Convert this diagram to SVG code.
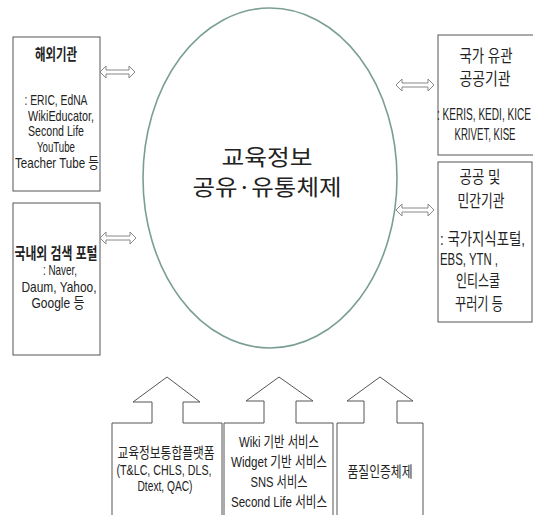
<svg xmlns="http://www.w3.org/2000/svg" width="533" height="515" viewBox="0 0 533 515">
<style>
.box{fill:#fff;stroke:#555;stroke-width:1}
.dbl{fill:#fff;stroke:#888;stroke-width:1}
.up{fill:#fff;stroke:#555;stroke-width:1}
text{font-family:"Liberation Sans","Noto Sans CJK KR",sans-serif;fill:#222;text-anchor:middle}
.t{font-size:15px}
.r{font-size:16.5px}
.b{font-size:16px;font-weight:bold}
.c{font-family:"Noto Sans CJK KR",sans-serif;font-size:22px}
</style>
<rect width="533" height="515" fill="#fff"/>
<g id="center">
<ellipse cx="270" cy="178" rx="127" ry="170" fill="#fff" stroke="#7a9e96" stroke-width="1.6"/>
<text class="c" x="267" y="165" textLength="91" lengthAdjust="spacingAndGlyphs">교육정보</text>
<text class="c" x="267" y="195" textLength="149" lengthAdjust="spacingAndGlyphs">공유·유통체제</text>
</g>
<g id="overseas">
<rect class="box" x="13" y="37" width="87" height="154"/>
<text class="b" x="56" y="60" textLength="42" lengthAdjust="spacingAndGlyphs">해외기관</text>
<text class="t" x="56" y="105" textLength="63" lengthAdjust="spacingAndGlyphs">: ERIC, EdNA</text>
<text class="t" x="61" y="120.5" textLength="66" lengthAdjust="spacingAndGlyphs">WikiEducator,</text>
<text class="t" x="56" y="136" textLength="56" lengthAdjust="spacingAndGlyphs">Second Life</text>
<text class="t" x="56" y="152" textLength="38" lengthAdjust="spacingAndGlyphs">YouTube</text>
<text class="t" x="57" y="168" textLength="84" lengthAdjust="spacingAndGlyphs">Teacher Tube 등</text>
</g>
<g id="portal">
<rect class="box" x="13" y="203" width="87" height="152"/>
<text class="b" x="56" y="259" textLength="83" lengthAdjust="spacingAndGlyphs">국내외 검색 포털</text>
<text class="t" x="60" y="275" textLength="34" lengthAdjust="spacingAndGlyphs">: Naver,</text>
<text class="t" x="59" y="292" textLength="75" lengthAdjust="spacingAndGlyphs">Daum, Yahoo,</text>
<text class="t" x="58" y="308" textLength="53" lengthAdjust="spacingAndGlyphs">Google 등</text>
</g>
<g id="national">
<rect class="box" x="438" y="35" width="100" height="120"/>
<text class="r" x="486" y="62" textLength="53" lengthAdjust="spacingAndGlyphs">국가 유관</text>
<text class="r" x="485" y="85" textLength="51" lengthAdjust="spacingAndGlyphs">공공기관</text>
<text class="r" x="437" y="120" textLength="94" lengthAdjust="spacingAndGlyphs" style="text-anchor:start">: KERIS, KEDI, KICE</text>
<text class="r" x="485" y="140" textLength="61" lengthAdjust="spacingAndGlyphs">KRIVET, KISE</text>
</g>
<g id="public">
<rect class="box" x="438" y="162" width="94" height="160"/>
<text class="r" x="480" y="183" textLength="41" lengthAdjust="spacingAndGlyphs">공공 및</text>
<text class="r" x="481" y="207" textLength="47" lengthAdjust="spacingAndGlyphs">민간기관</text>
<text class="r" x="440" y="245" textLength="85" lengthAdjust="spacingAndGlyphs" style="text-anchor:start">: 국가지식포털,</text>
<text class="r" x="440" y="265" textLength="58" lengthAdjust="spacingAndGlyphs" style="text-anchor:start">EBS, YTN ,</text>
<text class="r" x="478" y="287" textLength="44" lengthAdjust="spacingAndGlyphs">인티스쿨</text>
<text class="r" x="479" y="310" textLength="48" lengthAdjust="spacingAndGlyphs">꾸러기 등</text>
</g>
<g id="platform">
<path class="up" d="M112,515 V423 H152 V402 H133 L167,377 L200,402 H183 V423 H222 V515"/>
<text class="t" x="166" y="458" textLength="97" lengthAdjust="spacingAndGlyphs">교육정보통합플랫폼</text>
<text class="t" x="164" y="475" textLength="95" lengthAdjust="spacingAndGlyphs">(T&amp;LC, CHLS, DLS,</text>
<text class="t" x="165" y="491" textLength="55" lengthAdjust="spacingAndGlyphs">Dtext, QAC)</text>
</g>
<g id="services">
<path class="up" d="M224,515 V423 H264 V401 H246 L279,377 L313,401 H296 V423 H333 V515"/>
<text class="t" x="279" y="447" textLength="80" lengthAdjust="spacingAndGlyphs">Wiki 기반 서비스</text>
<text class="t" x="279" y="467" textLength="96" lengthAdjust="spacingAndGlyphs">Widget 기반 서비스</text>
<text class="t" x="279" y="487" textLength="57" lengthAdjust="spacingAndGlyphs">SNS 서비스</text>
<text class="t" x="279" y="507" textLength="96" lengthAdjust="spacingAndGlyphs">Second Life 서비스</text>
</g>
<g id="quality">
<path class="up" d="M337,515 V423 H364 V401 H347 L380,377 L413,401 H397 V423 H423 V515"/>
<text class="t" x="380" y="477" textLength="65" lengthAdjust="spacingAndGlyphs">품질인증체제</text>
</g>
<g id="connectors">
<polygon class="dbl" points="100,72 106,66 106,70 129,70 129,66 135,72 129,78 129,74 106,74 106,78"/>
<polygon class="dbl" points="100,238 106,232 106,236 130,236 130,232 136,238 130,244 130,240 106,240 106,244"/>
<polygon class="dbl" points="396,85 402,79 402,83 428,83 428,79 434,85 428,91 428,87 402,87 402,91"/>
<polygon class="dbl" points="396,210 402,204 402,208 428,208 428,204 434,210 428,216 428,212 402,212 402,216"/>
</g>
</svg>
